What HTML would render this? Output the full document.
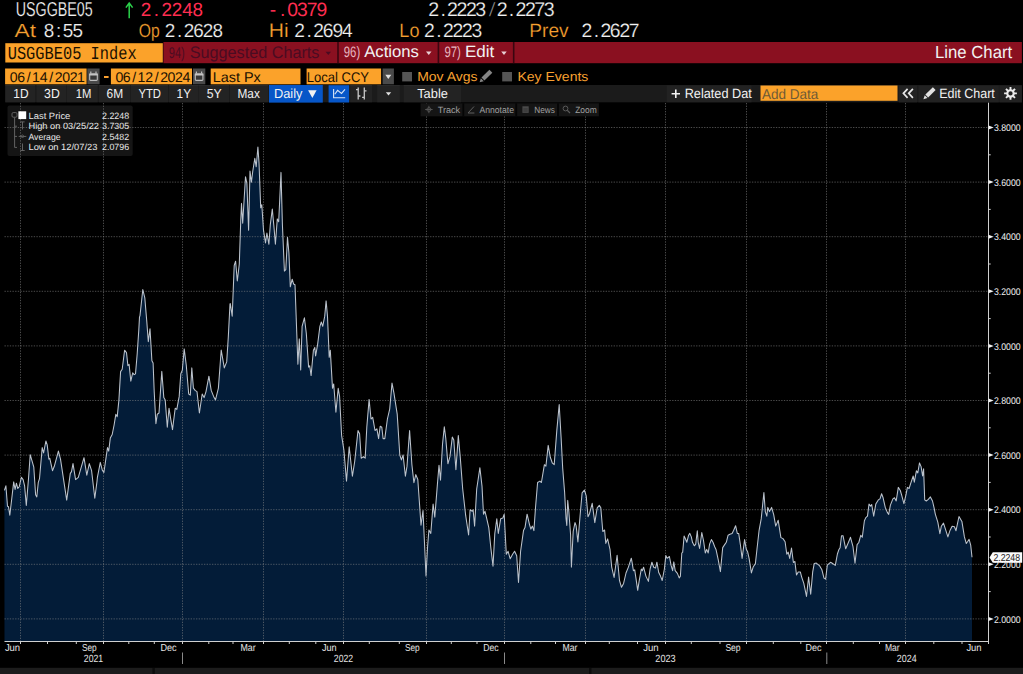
<!DOCTYPE html>
<html><head><meta charset="utf-8"><style>
html,body{margin:0;padding:0;background:#000;width:1023px;height:674px;overflow:hidden}
svg{display:block}
text{text-rendering:geometricPrecision}
</style></head><body>
<svg width="1023" height="674" viewBox="0 0 1023 674">
<rect width="1023" height="674" fill="#000"/>
<text x="15.79" y="16.40" font-family="Liberation Sans" font-size="20.20" fill="#f2f2f2" stroke="#000" stroke-width="0.2" font-weight="normal" textLength="76.92" lengthAdjust="spacingAndGlyphs" xml:space="preserve">USGGBE05</text>
<path d="M129.2 18.2 V3.6 M125.9 7.6 L129.2 3 L132.6 7.6" stroke="#2bd24b" stroke-width="1.5" fill="none"/>
<text x="146.00 156.34 166.67 177.00 187.39 197.67" y="15.90" font-family="Liberation Sans" font-size="18.90" fill="#ff2d50" text-anchor="middle">2.2248</text>
<text x="272.96 282.73 292.51 302.34 312.05 321.84" y="16.20" font-family="Liberation Sans" font-size="19.33" fill="#ff2d50" text-anchor="middle">-.0379</text>
<text x="433.77 443.17 452.56 461.96 471.35 480.81" y="16.20" font-family="Liberation Sans" font-size="19.62" fill="#f2f2f2" stroke="#000" stroke-width="0.2" text-anchor="middle">2.2223</text>
<text x="488.34" y="16.20" font-family="Liberation Mono" font-size="19.27" fill="#9a9a9a" stroke="#000" stroke-width="0.2" font-weight="normal" textLength="7.81" lengthAdjust="spacingAndGlyphs" xml:space="preserve">/</text>
<text x="502.17 511.57 520.96 530.36 539.74 549.21" y="16.20" font-family="Liberation Sans" font-size="19.62" fill="#f2f2f2" stroke="#000" stroke-width="0.2" text-anchor="middle">2.2273</text>
<text x="14.57" y="37.20" font-family="Liberation Sans" font-size="18.90" fill="#f8a030" stroke="#000" stroke-width="0.2" font-weight="normal" textLength="21.47" lengthAdjust="spacingAndGlyphs" xml:space="preserve">At</text>
<text x="48.93 58.50 68.08 77.64" y="37.20" font-family="Liberation Sans" font-size="18.90" fill="#f2f2f2" stroke="#000" stroke-width="0.2" text-anchor="middle">8:55</text>
<text x="138.87" y="37.00" font-family="Liberation Sans" font-size="18.90" fill="#f8a030" stroke="#000" stroke-width="0.2" font-weight="normal" textLength="20.97" lengthAdjust="spacingAndGlyphs" xml:space="preserve">Op</text>
<text x="170.00 179.54 189.07 198.54 208.13 217.67" y="37.00" font-family="Liberation Sans" font-size="18.90" fill="#f2f2f2" stroke="#000" stroke-width="0.2" text-anchor="middle">2.2628</text>
<text x="268.83" y="37.20" font-family="Liberation Sans" font-size="19.48" fill="#f8a030" stroke="#000" stroke-width="0.2" font-weight="normal" textLength="19.94" lengthAdjust="spacingAndGlyphs" xml:space="preserve">Hi</text>
<text x="299.57 309.11 318.65 328.12 337.73 347.33" y="37.20" font-family="Liberation Sans" font-size="19.19" fill="#f2f2f2" stroke="#000" stroke-width="0.2" text-anchor="middle">2.2694</text>
<text x="399.34" y="37.30" font-family="Liberation Sans" font-size="19.33" fill="#f8a030" stroke="#000" stroke-width="0.2" font-weight="normal" textLength="20.12" lengthAdjust="spacingAndGlyphs" xml:space="preserve">Lo</text>
<text x="429.40 438.87 448.33 457.79 467.25 476.77" y="37.30" font-family="Liberation Sans" font-size="19.33" fill="#f2f2f2" stroke="#000" stroke-width="0.2" text-anchor="middle">2.2223</text>
<text x="529.34" y="37.30" font-family="Liberation Sans" font-size="19.33" fill="#f8a030" stroke="#000" stroke-width="0.2" font-weight="normal" textLength="39.32" lengthAdjust="spacingAndGlyphs" xml:space="preserve">Prev</text>
<text x="586.90 596.36 605.82 615.22 624.75 634.20" y="37.30" font-family="Liberation Sans" font-size="19.33" fill="#f2f2f2" stroke="#000" stroke-width="0.2" text-anchor="middle">2.2627</text>
<rect x="5.30" y="43.20" width="157.50" height="19.30" fill="#fba22a" />
<text x="7.70" y="58.80" font-family="Liberation Mono" font-size="18.36" fill="#1a1000" font-weight="normal" textLength="128.90" lengthAdjust="spacingAndGlyphs" xml:space="preserve">USGGBE05 Index</text>
<rect x="163.40" y="42.00" width="858.50" height="21.20" fill="#8a1020" />
<rect x="337.20" y="42.00" width="1.60" height="21.20" fill="#3a0610" />
<rect x="437.60" y="42.00" width="1.60" height="21.20" fill="#3a0610" />
<rect x="512.90" y="42.00" width="1.60" height="21.20" fill="#3a0610" />
<text x="168.77" y="58.20" font-family="Liberation Sans" font-size="15.55" fill="#4a0c22" font-weight="normal" textLength="15.97" lengthAdjust="spacingAndGlyphs" xml:space="preserve">94)</text>
<text x="189.80" y="57.80" font-family="Liberation Sans" font-size="16.72" fill="#4a0c22" font-weight="normal" textLength="129.61" lengthAdjust="spacingAndGlyphs" xml:space="preserve">Suggested Charts</text>
<path d="M325.6 51.8 H331 L328.3 55 Z" fill="#4a0c22"/>
<text x="343.79" y="57.40" font-family="Liberation Sans" font-size="15.12" fill="#e8b8c0" font-weight="normal" textLength="16.41" lengthAdjust="spacingAndGlyphs" xml:space="preserve">96)</text>
<text x="364.21" y="57.20" font-family="Liberation Sans" font-size="16.42" fill="#f2f2f2" font-weight="normal" textLength="54.77" lengthAdjust="spacingAndGlyphs" xml:space="preserve">Actions</text>
<path d="M426 51.6 H431.5 L428.75 55 Z" fill="#e8d0d4"/>
<text x="444.39" y="57.40" font-family="Liberation Sans" font-size="15.12" fill="#e8b8c0" font-weight="normal" textLength="16.51" lengthAdjust="spacingAndGlyphs" xml:space="preserve">97)</text>
<text x="464.91" y="57.20" font-family="Liberation Sans" font-size="16.42" fill="#f2f2f2" font-weight="normal" textLength="29.27" lengthAdjust="spacingAndGlyphs" xml:space="preserve">Edit</text>
<path d="M501.2 51.6 H506.7 L504 55 Z" fill="#e8d0d4"/>
<text x="935.05" y="57.60" font-family="Liberation Sans" font-size="17.44" fill="#f2f2f2" font-weight="normal" textLength="77.09" lengthAdjust="spacingAndGlyphs" xml:space="preserve">Line Chart</text>
<rect x="5.10" y="68.50" width="81.50" height="15.80" fill="#fba22a" />
<text x="13.67 21.12 28.67 35.97 43.71 51.16 58.66 66.16 73.66 80.97" y="81.50" font-family="Liberation Sans" font-size="14.10" fill="#1a1000" text-anchor="middle">06/14/2021</text>
<rect x="87.30" y="68.50" width="12.30" height="15.80" fill="#4a4a4a" />
<rect x="110.90" y="68.50" width="81.10" height="15.80" fill="#fba22a" />
<text x="119.37 126.77 134.28 141.54 149.18 156.64 164.09 171.54 178.99 186.49" y="81.50" font-family="Liberation Sans" font-size="14.10" fill="#1a1000" text-anchor="middle">06/12/2024</text>
<rect x="193.00" y="68.50" width="12.30" height="15.80" fill="#4a4a4a" />
<rect x="89.7" y="74.1" width="7.6" height="6.3" rx="0.8" fill="#383838" stroke="#bdbdbd" stroke-width="1.1"/><rect x="89.2" y="73.5" width="8.6" height="2" fill="#c4c4c4"/><rect x="90.2" y="71.5" width="1.2" height="2.2" fill="#bdbdbd"/><rect x="95.4" y="71.5" width="1.2" height="2.2" fill="#bdbdbd"/>
<rect x="195.3" y="74.1" width="7.6" height="6.3" rx="0.8" fill="#383838" stroke="#bdbdbd" stroke-width="1.1"/><rect x="194.8" y="73.5" width="8.6" height="2" fill="#c4c4c4"/><rect x="195.8" y="71.5" width="1.2" height="2.2" fill="#bdbdbd"/><rect x="201.0" y="71.5" width="1.2" height="2.2" fill="#bdbdbd"/>
<rect x="104.00" y="76.00" width="4.60" height="2.00" fill="#f8a030" />
<rect x="210.70" y="68.50" width="89.80" height="15.80" fill="#fba22a" />
<text x="212.75" y="81.50" font-family="Liberation Sans" font-size="14.10" fill="#1a1000" font-weight="normal" textLength="48.09" lengthAdjust="spacingAndGlyphs" xml:space="preserve">Last Px</text>
<rect x="306.60" y="68.50" width="74.50" height="15.80" fill="#fba22a" />
<text x="306.75" y="81.50" font-family="Liberation Sans" font-size="14.10" fill="#1a1000" font-weight="normal" textLength="62.29" lengthAdjust="spacingAndGlyphs" xml:space="preserve">Local CCY</text>
<rect x="382.60" y="68.50" width="11.30" height="15.80" fill="#4a4a4a" />
<path d="M385.3 74.8 H391.3 L388.3 79 Z" fill="#e0e0e0"/>
<rect x="402.20" y="72.00" width="9.80" height="9.40" fill="#555555" />
<rect x="502.20" y="72.00" width="9.80" height="9.40" fill="#555555" />
<text x="417.22" y="80.80" font-family="Liberation Sans" font-size="13.08" fill="#f8a030" font-weight="normal" textLength="60.27" lengthAdjust="spacingAndGlyphs" xml:space="preserve">Mov Avgs</text>
<text x="517.42" y="80.80" font-family="Liberation Sans" font-size="13.08" fill="#f8a030" font-weight="normal" textLength="70.97" lengthAdjust="spacingAndGlyphs" xml:space="preserve">Key Events</text>
<polygon points="479.60,82.30 480.84,78.14 483.78,81.13" fill="#858585"/><polygon points="481.48,77.51 489.39,69.73 492.34,72.72 484.42,80.50" fill="#858585"/>
<rect x="5.30" y="85.00" width="1016.60" height="17.30" fill="#1b1b1b" />
<rect x="5.30" y="85.00" width="29.90" height="17.30" fill="#232323" />
<rect x="5.30" y="85.00" width="29.90" height="0.80" fill="#2c2c2c" />
<text x="13.31" y="98.00" font-family="Liberation Sans" font-size="13.23" fill="#f2f2f2" font-weight="normal" textLength="15.29" lengthAdjust="spacingAndGlyphs" xml:space="preserve">1D</text>
<rect x="36.60" y="85.00" width="29.90" height="17.30" fill="#232323" />
<rect x="36.60" y="85.00" width="29.90" height="0.80" fill="#2c2c2c" />
<text x="44.11" y="98.00" font-family="Liberation Sans" font-size="13.23" fill="#f2f2f2" font-weight="normal" textLength="15.69" lengthAdjust="spacingAndGlyphs" xml:space="preserve">3D</text>
<rect x="66.90" y="85.00" width="30.80" height="17.30" fill="#232323" />
<rect x="66.90" y="85.00" width="30.80" height="0.80" fill="#2c2c2c" />
<text x="75.71" y="98.00" font-family="Liberation Sans" font-size="13.23" fill="#f2f2f2" font-weight="normal" textLength="15.69" lengthAdjust="spacingAndGlyphs" xml:space="preserve">1M</text>
<rect x="98.90" y="85.00" width="31.30" height="17.30" fill="#232323" />
<rect x="98.90" y="85.00" width="31.30" height="0.80" fill="#2c2c2c" />
<text x="106.51" y="98.00" font-family="Liberation Sans" font-size="13.23" fill="#f2f2f2" font-weight="normal" textLength="16.59" lengthAdjust="spacingAndGlyphs" xml:space="preserve">6M</text>
<rect x="131.00" y="85.00" width="37.00" height="17.30" fill="#232323" />
<rect x="131.00" y="85.00" width="37.00" height="0.80" fill="#2c2c2c" />
<text x="138.41" y="98.00" font-family="Liberation Sans" font-size="13.23" fill="#f2f2f2" font-weight="normal" textLength="22.59" lengthAdjust="spacingAndGlyphs" xml:space="preserve">YTD</text>
<rect x="169.00" y="85.00" width="29.50" height="17.30" fill="#232323" />
<rect x="169.00" y="85.00" width="29.50" height="0.80" fill="#2c2c2c" />
<text x="176.61" y="98.00" font-family="Liberation Sans" font-size="13.23" fill="#f2f2f2" font-weight="normal" textLength="14.49" lengthAdjust="spacingAndGlyphs" xml:space="preserve">1Y</text>
<rect x="199.00" y="85.00" width="30.00" height="17.30" fill="#232323" />
<rect x="199.00" y="85.00" width="30.00" height="0.80" fill="#2c2c2c" />
<text x="206.71" y="98.00" font-family="Liberation Sans" font-size="13.23" fill="#f2f2f2" font-weight="normal" textLength="14.99" lengthAdjust="spacingAndGlyphs" xml:space="preserve">5Y</text>
<rect x="230.00" y="85.00" width="38.00" height="17.30" fill="#232323" />
<rect x="230.00" y="85.00" width="38.00" height="0.80" fill="#2c2c2c" />
<text x="237.51" y="98.00" font-family="Liberation Sans" font-size="13.23" fill="#f2f2f2" font-weight="normal" textLength="22.39" lengthAdjust="spacingAndGlyphs" xml:space="preserve">Max</text>
<rect x="269.00" y="85.00" width="53.80" height="17.60" fill="#0656c8" />
<text x="273.91" y="98.00" font-family="Liberation Sans" font-size="13.23" fill="#f2f2f2" font-weight="normal" textLength="28.59" lengthAdjust="spacingAndGlyphs" xml:space="preserve">Daily</text>
<path d="M308.1 90.3 H316.6 L312.35 98 Z" fill="#f2f2f2"/>
<rect x="328.60" y="85.20" width="20.50" height="17.30" fill="#0656c8" />
<path d="M333.6 89 V97.8 H345.2 M334.8 94.3 L337.6 90.4 L341.5 93.4 L345 89.3" stroke="#d8e4f4" stroke-width="1.1" fill="none"/>
<rect x="350.20" y="85.00" width="21.80" height="17.30" fill="#232323" />
<rect x="350.20" y="85.00" width="21.80" height="0.80" fill="#2c2c2c" />
<path d="M358.2 87.5 V99.5 M364.3 87.5 V99.5 M356 89.6 H358.2 M358.2 96 H360.4 M362.1 97.3 H364.3 M364.3 90.8 H366.5" stroke="#c8c8c8" stroke-width="1.3" fill="none"/>
<rect x="377.20" y="85.00" width="22.60" height="17.30" fill="#232323" />
<rect x="377.20" y="85.00" width="22.60" height="0.80" fill="#2c2c2c" />
<path d="M385.8 92.3 H391.2 L388.5 95.6 Z" fill="#e0e0e0"/>
<rect x="403.70" y="85.00" width="57.40" height="17.30" fill="#232323" />
<rect x="403.70" y="85.00" width="57.40" height="0.80" fill="#2c2c2c" />
<text x="417.21" y="98.00" font-family="Liberation Sans" font-size="13.23" fill="#f2f2f2" font-weight="normal" textLength="30.69" lengthAdjust="spacingAndGlyphs" xml:space="preserve">Table</text>
<rect x="666.70" y="85.30" width="84.80" height="17.00" fill="#222222" />
<path d="M671.6 93.8 H680 M675.8 89.6 V98" stroke="#f2f2f2" stroke-width="1.6" fill="none"/>
<text x="684.69" y="98.10" font-family="Liberation Sans" font-size="13.52" fill="#f2f2f2" font-weight="normal" textLength="67.12" lengthAdjust="spacingAndGlyphs" xml:space="preserve">Related Dat</text>
<rect x="760.50" y="85.50" width="137.00" height="15.30" fill="#fba22a" />
<text x="761.95" y="98.60" font-family="Liberation Sans" font-size="14.10" fill="#6e5a36" font-weight="normal" textLength="56.39" lengthAdjust="spacingAndGlyphs" xml:space="preserve">Add Data</text>
<rect x="898.90" y="85.60" width="18.10" height="16.80" fill="#222222" />
<path d="M907.6 88.8 L903.4 93.3 L907.6 97.8 M912.9 88.8 L908.7 93.3 L912.9 97.8" stroke="#e6e6e6" stroke-width="1.7" fill="none"/>
<rect x="918.40" y="85.60" width="80.40" height="16.80" fill="#222222" />
<polygon points="923.40,99.30 924.74,95.25 927.48,98.03" fill="#e2e2e2"/><polygon points="925.38,94.61 932.87,87.25 935.60,90.04 928.12,97.40" fill="#e2e2e2"/>
<text x="939.19" y="98.20" font-family="Liberation Sans" font-size="13.52" fill="#f2f2f2" font-weight="normal" textLength="55.62" lengthAdjust="spacingAndGlyphs" xml:space="preserve">Edit Chart</text>
<rect x="999.50" y="85.60" width="22.40" height="16.80" fill="#222222" />
<path d="M1013.90 93.40 L1016.90 93.40 M1012.90 95.80 L1015.03 97.93 M1010.50 96.80 L1010.50 99.80 M1008.10 95.80 L1005.97 97.93 M1007.10 93.40 L1004.10 93.40 M1008.10 91.00 L1005.97 88.87 M1010.50 90.00 L1010.50 87.00 M1012.90 91.00 L1015.03 88.87" stroke="#ececec" stroke-width="1.9" fill="none"/><circle cx="1010.5" cy="93.4" r="3.2" fill="none" stroke="#ececec" stroke-width="2.1"/>
<path d="M4.5,641.0 L4.4,490.3 L5.9,485.8 L7.5,506.3 L8.5,506.8 L9.8,515.2 L11.6,500.0 L13.7,481.9 L15.1,489.4 L16.4,483.2 L17.8,488.5 L19.2,486.7 L21.4,477.3 L23.1,479.6 L24.6,485.8 L26.3,505.4 L28.5,478.7 L30.2,454.7 L32.0,460.9 L33.8,467.2 L35.6,494.7 L36.8,496.9 L38.3,482.3 L39.5,478.7 L42.2,447.6 L43.6,452.9 L45.9,441.0 L47.2,444.9 L48.9,459.1 L49.8,458.3 L52.5,470.7 L54.3,466.3 L58.4,451.1 L60.5,459.1 L66.7,500.1 L70.3,473.4 L71.5,471.6 L73.0,463.6 L75.6,479.6 L78.3,477.3 L84.0,457.7 L86.8,475.2 L89.3,463.6 L91.6,470.7 L94.8,498.3 L97.0,481.4 L97.4,477.3 L100.3,462.4 L102.3,470.1 L103.9,472.5 L105.8,459.4 L107.5,447.6 L108.7,451.1 L110.3,438.1 L112.2,434.5 L114.1,425.0 L115.8,414.3 L117.2,416.7 L118.9,400.1 L120.6,371.6 L122.2,369.2 L124.6,350.2 L126.5,352.6 L127.9,365.6 L129.1,364.4 L130.8,381.1 L132.7,372.8 L134.1,374.6 L135.5,373.9 L137.2,353.8 L138.8,330.0 L139.5,317.1 L140.0,315.6 L142.8,289.5 L144.8,297.8 L146.7,320.4 L148.3,341.7 L150.0,328.7 L151.9,360.7 L153.1,363.1 L154.2,391.6 L155.9,423.7 L157.3,414.2 L159.0,413.0 L161.8,371.4 L163.8,397.6 L165.2,399.9 L167.3,427.2 L169.0,408.2 L170.9,420.1 L172.5,429.6 L175.2,408.2 L176.8,409.4 L179.2,396.4 L180.8,373.8 L182.3,370.2 L184.2,348.9 L186.3,365.5 L188.7,394.0 L190.3,395.2 L191.8,367.9 L193.4,388.1 L195.1,390.4 L197.0,391.6 L199.4,413.0 L202.2,394.0 L204.1,397.6 L206.0,391.6 L208.9,376.2 L211.2,390.4 L213.6,396.4 L215.5,399.9 L218.4,388.1 L221.2,350.1 L224.3,367.9 L226.7,361.9 L228.3,337.0 L230.0,303.8 L230.3,303.5 L232.2,316.2 L234.2,265.5 L235.6,261.2 L237.3,281.0 L239.3,264.0 L240.7,221.8 L241.5,203.4 L242.7,223.2 L245.5,176.7 L246.9,183.7 L248.6,230.2 L250.0,171.0 L251.4,182.3 L252.8,171.0 L254.8,158.3 L256.2,166.8 L257.9,147.0 L259.0,162.6 L260.7,207.7 L261.8,204.8 L263.5,230.2 L265.5,242.9 L266.9,233.0 L268.9,244.3 L270.3,224.6 L272.3,209.1 L274.0,227.4 L275.4,244.3 L277.3,218.9 L278.7,221.8 L281.0,172.4 L282.4,224.6 L284.4,271.1 L285.8,269.7 L287.5,237.3 L288.9,252.8 L290.3,286.8 L292.2,279.2 L293.6,284.0 L295.0,284.8 L297.9,364.3 L299.3,338.9 L300.7,370.0 L302.1,326.3 L304.4,317.8 L306.3,333.3 L308.6,367.1 L309.7,365.7 L311.1,375.6 L313.4,350.2 L314.8,347.4 L315.6,355.9 L317.6,344.6 L319.9,326.3 L321.3,322.0 L322.7,326.3 L324.7,316.4 L326.1,300.9 L327.5,316.4 L329.2,357.3 L330.3,350.2 L332.5,388.3 L333.7,384.0 L335.9,412.2 L338.2,388.3 L339.6,396.7 L341.6,435.4 L343.9,450.1 L346.5,481.1 L349.2,446.8 L352.4,476.2 L354.7,461.5 L358.0,430.5 L359.6,433.7 L361.2,458.2 L363.5,456.6 L365.2,458.2 L366.8,427.2 L369.1,399.4 L371.0,419.0 L372.7,417.4 L375.0,430.5 L376.9,428.8 L378.6,438.6 L380.2,426.2 L381.8,427.2 L383.1,438.6 L384.8,438.6 L387.4,419.0 L389.7,409.2 L392.0,383.1 L393.9,392.9 L397.2,414.1 L399.8,455.0 L401.4,459.9 L403.1,455.0 L405.4,476.2 L407.0,466.4 L409.6,430.5 L411.9,464.8 L413.9,482.7 L415.8,474.6 L417.8,479.5 L421.0,525.2 L423.0,510.5 L426.0,575.9 L427.6,546.5 L428.9,530.1 L430.8,533.4 L433.1,504.0 L434.8,517.1 L437.4,484.4 L439.0,465.3 L440.5,480.1 L442.5,444.5 L444.3,426.7 L445.8,438.6 L447.9,463.8 L450.0,456.4 L452.3,437.1 L453.8,440.1 L455.9,469.7 L458.3,435.6 L460.3,457.9 L462.7,489.0 L465.7,515.7 L468.6,535.0 L470.1,509.8 L472.2,511.3 L473.1,509.8 L474.6,526.1 L476.7,489.0 L479.9,467.7 L482.0,486.1 L483.5,514.2 L485.0,511.3 L486.4,517.2 L488.8,527.6 L490.9,548.4 L493.0,566.2 L494.8,533.5 L496.8,518.7 L498.3,533.5 L500.7,518.7 L502.8,518.1 L504.2,514.2 L506.3,554.3 L508.1,551.3 L510.2,558.8 L512.6,554.3 L514.6,551.3 L516.7,555.8 L518.5,582.5 L520.6,551.3 L523.5,530.6 L525.0,527.6 L527.1,514.2 L529.5,524.6 L530.9,529.1 L532.4,526.1 L533.9,530.6 L535.5,507.8 L537.6,482.5 L539.9,481.1 L541.4,482.5 L544.4,464.7 L545.9,466.2 L548.2,445.4 L550.3,457.3 L552.4,463.2 L554.2,464.7 L556.8,430.6 L559.2,404.5 L561.1,437.5 L562.7,468.4 L564.6,492.1 L566.0,518.2 L566.8,525.4 L567.7,500.4 L568.9,512.3 L570.6,534.9 L571.4,567.1 L573.2,531.5 L575.0,522.6 L576.1,525.6 L577.9,541.9 L580.0,516.7 L582.1,492.9 L584.4,490.0 L586.2,495.9 L588.0,516.7 L589.5,513.7 L592.2,503.3 L594.8,522.6 L597.2,507.8 L599.3,505.4 L600.8,507.8 L602.8,531.5 L604.6,530.0 L605.8,543.4 L607.6,538.9 L610.0,549.3 L611.7,567.1 L614.1,577.5 L617.1,555.2 L619.5,580.5 L621.5,587.3 L623.6,583.4 L626.0,573.0 L628.4,567.1 L631.3,558.2 L632.0,561.9 L633.4,570.7 L634.7,569.9 L635.9,577.9 L637.7,590.3 L639.1,581.4 L641.3,569.0 L642.3,570.7 L643.6,567.2 L645.9,576.1 L648.4,581.4 L650.1,569.0 L651.9,562.2 L653.7,567.2 L655.5,568.1 L656.9,562.2 L658.7,572.5 L660.5,576.1 L662.2,580.5 L664.4,569.0 L665.8,555.6 L667.1,558.3 L669.4,556.5 L671.1,565.4 L672.6,570.7 L673.8,561.9 L675.2,570.7 L677.4,573.4 L679.2,577.9 L680.4,576.1 L681.8,553.0 L682.7,552.1 L684.1,536.0 L685.4,538.7 L686.8,542.3 L688.6,535.2 L689.8,533.4 L691.3,536.9 L692.5,542.3 L694.3,545.8 L695.7,544.1 L697.3,530.7 L698.2,542.3 L699.6,548.5 L701.8,532.5 L703.5,540.5 L705.3,553.0 L706.7,549.4 L708.2,553.0 L709.6,544.1 L711.4,539.6 L713.0,542.3 L714.7,546.7 L716.0,549.4 L718.3,560.1 L720.4,571.6 L722.7,547.6 L724.5,544.9 L726.3,542.3 L728.1,535.2 L729.9,534.3 L732.1,533.4 L733.7,530.3 L735.6,525.7 L737.3,533.4 L738.7,533.4 L740.4,544.8 L742.1,558.4 L744.6,539.6 L746.2,549.0 L747.7,552.1 L749.1,558.4 L751.4,572.9 L753.3,566.7 L755.4,563.6 L757.0,549.0 L759.1,530.3 L761.2,518.9 L762.6,505.3 L763.9,492.5 L765.3,511.6 L766.8,516.2 L767.8,507.4 L769.5,511.6 L771.6,507.4 L773.7,514.7 L775.7,526.1 L778.2,520.3 L780.9,537.6 L783.0,538.6 L785.1,541.7 L786.8,554.2 L788.2,552.1 L789.7,558.4 L791.5,548.0 L793.4,562.5 L794.9,561.5 L796.5,575.0 L798.2,571.9 L800.3,571.9 L801.7,577.1 L803.8,583.3 L806.5,596.4 L808.6,577.1 L810.7,594.3 L812.7,571.9 L814.2,563.6 L816.3,563.1 L819.4,565.6 L821.9,569.8 L824.0,578.1 L825.6,579.1 L827.3,565.2 L830.5,562.3 L832.2,563.3 L835.3,565.4 L837.4,554.0 L838.8,549.8 L840.1,547.7 L841.5,535.7 L843.0,535.7 L845.7,548.8 L848.8,541.5 L850.5,537.3 L853.0,546.7 L855.0,563.3 L857.1,544.6 L858.8,542.5 L860.8,535.2 L862.3,537.3 L864.4,520.7 L865.8,517.6 L867.5,516.1 L869.0,504.1 L870.6,506.1 L871.7,504.5 L873.7,516.1 L875.8,504.1 L878.3,499.9 L880.0,498.9 L881.6,493.7 L883.1,497.8 L885.2,507.2 L887.3,512.4 L888.7,514.4 L890.4,505.1 L892.9,498.9 L894.5,497.8 L896.2,500.9 L898.3,487.4 L900.3,490.5 L901.8,495.7 L903.9,503.6 L906.0,494.7 L907.4,487.4 L909.1,488.5 L910.7,483.3 L913.2,476.0 L914.3,482.2 L916.4,470.8 L917.8,472.9 L919.5,462.9 L921.1,466.6 L922.6,476.0 L923.6,468.7 L924.7,499.9 L926.3,501.0 L928.3,499.4 L930.4,496.9 L932.5,501.0 L934.2,508.4 L935.3,514.1 L937.8,522.2 L939.9,533.7 L941.3,526.3 L943.5,523.1 L945.6,529.6 L947.9,536.9 L950.0,530.4 L952.1,526.3 L954.4,526.8 L956.0,530.7 L959.0,516.5 L961.9,521.4 L964.4,536.9 L966.3,543.5 L967.5,541.8 L969.1,539.4 L970.7,545.1 L972.0,557.3 L972.0,641.0 Z" fill="#031c38"/>
<rect x="7.50" y="105.50" width="125.20" height="50.60" fill="#151515" rx="2"/>
<path d="M20.5 103 V641 M103.5 103 V641 M182.5 103 V641 M263.5 103 V641 M343.5 103 V641 M426.5 103 V641 M504.5 103 V641 M585.5 103 V641 M665.5 103 V641 M746.5 103 V641 M826.5 103 V641 M905.5 103 V641 M4.5 618.9 H988 M4.5 564.3 H988 M4.5 509.7 H988 M4.5 455.1 H988 M4.5 400.5 H988 M4.5 345.9 H988 M4.5 291.3 H988 M4.5 236.7 H988 M4.5 182.1 H988 M4.5 127.5 H988" stroke="#8a8a8a" stroke-opacity="0.55" stroke-width="1" stroke-dasharray="1.33 1.33" fill="none"/>
<path d="M4.4,490.3 L5.9,485.8 L7.5,506.3 L8.5,506.8 L9.8,515.2 L11.6,500.0 L13.7,481.9 L15.1,489.4 L16.4,483.2 L17.8,488.5 L19.2,486.7 L21.4,477.3 L23.1,479.6 L24.6,485.8 L26.3,505.4 L28.5,478.7 L30.2,454.7 L32.0,460.9 L33.8,467.2 L35.6,494.7 L36.8,496.9 L38.3,482.3 L39.5,478.7 L42.2,447.6 L43.6,452.9 L45.9,441.0 L47.2,444.9 L48.9,459.1 L49.8,458.3 L52.5,470.7 L54.3,466.3 L58.4,451.1 L60.5,459.1 L66.7,500.1 L70.3,473.4 L71.5,471.6 L73.0,463.6 L75.6,479.6 L78.3,477.3 L84.0,457.7 L86.8,475.2 L89.3,463.6 L91.6,470.7 L94.8,498.3 L97.0,481.4 L97.4,477.3 L100.3,462.4 L102.3,470.1 L103.9,472.5 L105.8,459.4 L107.5,447.6 L108.7,451.1 L110.3,438.1 L112.2,434.5 L114.1,425.0 L115.8,414.3 L117.2,416.7 L118.9,400.1 L120.6,371.6 L122.2,369.2 L124.6,350.2 L126.5,352.6 L127.9,365.6 L129.1,364.4 L130.8,381.1 L132.7,372.8 L134.1,374.6 L135.5,373.9 L137.2,353.8 L138.8,330.0 L139.5,317.1 L140.0,315.6 L142.8,289.5 L144.8,297.8 L146.7,320.4 L148.3,341.7 L150.0,328.7 L151.9,360.7 L153.1,363.1 L154.2,391.6 L155.9,423.7 L157.3,414.2 L159.0,413.0 L161.8,371.4 L163.8,397.6 L165.2,399.9 L167.3,427.2 L169.0,408.2 L170.9,420.1 L172.5,429.6 L175.2,408.2 L176.8,409.4 L179.2,396.4 L180.8,373.8 L182.3,370.2 L184.2,348.9 L186.3,365.5 L188.7,394.0 L190.3,395.2 L191.8,367.9 L193.4,388.1 L195.1,390.4 L197.0,391.6 L199.4,413.0 L202.2,394.0 L204.1,397.6 L206.0,391.6 L208.9,376.2 L211.2,390.4 L213.6,396.4 L215.5,399.9 L218.4,388.1 L221.2,350.1 L224.3,367.9 L226.7,361.9 L228.3,337.0 L230.0,303.8 L230.3,303.5 L232.2,316.2 L234.2,265.5 L235.6,261.2 L237.3,281.0 L239.3,264.0 L240.7,221.8 L241.5,203.4 L242.7,223.2 L245.5,176.7 L246.9,183.7 L248.6,230.2 L250.0,171.0 L251.4,182.3 L252.8,171.0 L254.8,158.3 L256.2,166.8 L257.9,147.0 L259.0,162.6 L260.7,207.7 L261.8,204.8 L263.5,230.2 L265.5,242.9 L266.9,233.0 L268.9,244.3 L270.3,224.6 L272.3,209.1 L274.0,227.4 L275.4,244.3 L277.3,218.9 L278.7,221.8 L281.0,172.4 L282.4,224.6 L284.4,271.1 L285.8,269.7 L287.5,237.3 L288.9,252.8 L290.3,286.8 L292.2,279.2 L293.6,284.0 L295.0,284.8 L297.9,364.3 L299.3,338.9 L300.7,370.0 L302.1,326.3 L304.4,317.8 L306.3,333.3 L308.6,367.1 L309.7,365.7 L311.1,375.6 L313.4,350.2 L314.8,347.4 L315.6,355.9 L317.6,344.6 L319.9,326.3 L321.3,322.0 L322.7,326.3 L324.7,316.4 L326.1,300.9 L327.5,316.4 L329.2,357.3 L330.3,350.2 L332.5,388.3 L333.7,384.0 L335.9,412.2 L338.2,388.3 L339.6,396.7 L341.6,435.4 L343.9,450.1 L346.5,481.1 L349.2,446.8 L352.4,476.2 L354.7,461.5 L358.0,430.5 L359.6,433.7 L361.2,458.2 L363.5,456.6 L365.2,458.2 L366.8,427.2 L369.1,399.4 L371.0,419.0 L372.7,417.4 L375.0,430.5 L376.9,428.8 L378.6,438.6 L380.2,426.2 L381.8,427.2 L383.1,438.6 L384.8,438.6 L387.4,419.0 L389.7,409.2 L392.0,383.1 L393.9,392.9 L397.2,414.1 L399.8,455.0 L401.4,459.9 L403.1,455.0 L405.4,476.2 L407.0,466.4 L409.6,430.5 L411.9,464.8 L413.9,482.7 L415.8,474.6 L417.8,479.5 L421.0,525.2 L423.0,510.5 L426.0,575.9 L427.6,546.5 L428.9,530.1 L430.8,533.4 L433.1,504.0 L434.8,517.1 L437.4,484.4 L439.0,465.3 L440.5,480.1 L442.5,444.5 L444.3,426.7 L445.8,438.6 L447.9,463.8 L450.0,456.4 L452.3,437.1 L453.8,440.1 L455.9,469.7 L458.3,435.6 L460.3,457.9 L462.7,489.0 L465.7,515.7 L468.6,535.0 L470.1,509.8 L472.2,511.3 L473.1,509.8 L474.6,526.1 L476.7,489.0 L479.9,467.7 L482.0,486.1 L483.5,514.2 L485.0,511.3 L486.4,517.2 L488.8,527.6 L490.9,548.4 L493.0,566.2 L494.8,533.5 L496.8,518.7 L498.3,533.5 L500.7,518.7 L502.8,518.1 L504.2,514.2 L506.3,554.3 L508.1,551.3 L510.2,558.8 L512.6,554.3 L514.6,551.3 L516.7,555.8 L518.5,582.5 L520.6,551.3 L523.5,530.6 L525.0,527.6 L527.1,514.2 L529.5,524.6 L530.9,529.1 L532.4,526.1 L533.9,530.6 L535.5,507.8 L537.6,482.5 L539.9,481.1 L541.4,482.5 L544.4,464.7 L545.9,466.2 L548.2,445.4 L550.3,457.3 L552.4,463.2 L554.2,464.7 L556.8,430.6 L559.2,404.5 L561.1,437.5 L562.7,468.4 L564.6,492.1 L566.0,518.2 L566.8,525.4 L567.7,500.4 L568.9,512.3 L570.6,534.9 L571.4,567.1 L573.2,531.5 L575.0,522.6 L576.1,525.6 L577.9,541.9 L580.0,516.7 L582.1,492.9 L584.4,490.0 L586.2,495.9 L588.0,516.7 L589.5,513.7 L592.2,503.3 L594.8,522.6 L597.2,507.8 L599.3,505.4 L600.8,507.8 L602.8,531.5 L604.6,530.0 L605.8,543.4 L607.6,538.9 L610.0,549.3 L611.7,567.1 L614.1,577.5 L617.1,555.2 L619.5,580.5 L621.5,587.3 L623.6,583.4 L626.0,573.0 L628.4,567.1 L631.3,558.2 L632.0,561.9 L633.4,570.7 L634.7,569.9 L635.9,577.9 L637.7,590.3 L639.1,581.4 L641.3,569.0 L642.3,570.7 L643.6,567.2 L645.9,576.1 L648.4,581.4 L650.1,569.0 L651.9,562.2 L653.7,567.2 L655.5,568.1 L656.9,562.2 L658.7,572.5 L660.5,576.1 L662.2,580.5 L664.4,569.0 L665.8,555.6 L667.1,558.3 L669.4,556.5 L671.1,565.4 L672.6,570.7 L673.8,561.9 L675.2,570.7 L677.4,573.4 L679.2,577.9 L680.4,576.1 L681.8,553.0 L682.7,552.1 L684.1,536.0 L685.4,538.7 L686.8,542.3 L688.6,535.2 L689.8,533.4 L691.3,536.9 L692.5,542.3 L694.3,545.8 L695.7,544.1 L697.3,530.7 L698.2,542.3 L699.6,548.5 L701.8,532.5 L703.5,540.5 L705.3,553.0 L706.7,549.4 L708.2,553.0 L709.6,544.1 L711.4,539.6 L713.0,542.3 L714.7,546.7 L716.0,549.4 L718.3,560.1 L720.4,571.6 L722.7,547.6 L724.5,544.9 L726.3,542.3 L728.1,535.2 L729.9,534.3 L732.1,533.4 L733.7,530.3 L735.6,525.7 L737.3,533.4 L738.7,533.4 L740.4,544.8 L742.1,558.4 L744.6,539.6 L746.2,549.0 L747.7,552.1 L749.1,558.4 L751.4,572.9 L753.3,566.7 L755.4,563.6 L757.0,549.0 L759.1,530.3 L761.2,518.9 L762.6,505.3 L763.9,492.5 L765.3,511.6 L766.8,516.2 L767.8,507.4 L769.5,511.6 L771.6,507.4 L773.7,514.7 L775.7,526.1 L778.2,520.3 L780.9,537.6 L783.0,538.6 L785.1,541.7 L786.8,554.2 L788.2,552.1 L789.7,558.4 L791.5,548.0 L793.4,562.5 L794.9,561.5 L796.5,575.0 L798.2,571.9 L800.3,571.9 L801.7,577.1 L803.8,583.3 L806.5,596.4 L808.6,577.1 L810.7,594.3 L812.7,571.9 L814.2,563.6 L816.3,563.1 L819.4,565.6 L821.9,569.8 L824.0,578.1 L825.6,579.1 L827.3,565.2 L830.5,562.3 L832.2,563.3 L835.3,565.4 L837.4,554.0 L838.8,549.8 L840.1,547.7 L841.5,535.7 L843.0,535.7 L845.7,548.8 L848.8,541.5 L850.5,537.3 L853.0,546.7 L855.0,563.3 L857.1,544.6 L858.8,542.5 L860.8,535.2 L862.3,537.3 L864.4,520.7 L865.8,517.6 L867.5,516.1 L869.0,504.1 L870.6,506.1 L871.7,504.5 L873.7,516.1 L875.8,504.1 L878.3,499.9 L880.0,498.9 L881.6,493.7 L883.1,497.8 L885.2,507.2 L887.3,512.4 L888.7,514.4 L890.4,505.1 L892.9,498.9 L894.5,497.8 L896.2,500.9 L898.3,487.4 L900.3,490.5 L901.8,495.7 L903.9,503.6 L906.0,494.7 L907.4,487.4 L909.1,488.5 L910.7,483.3 L913.2,476.0 L914.3,482.2 L916.4,470.8 L917.8,472.9 L919.5,462.9 L921.1,466.6 L922.6,476.0 L923.6,468.7 L924.7,499.9 L926.3,501.0 L928.3,499.4 L930.4,496.9 L932.5,501.0 L934.2,508.4 L935.3,514.1 L937.8,522.2 L939.9,533.7 L941.3,526.3 L943.5,523.1 L945.6,529.6 L947.9,536.9 L950.0,530.4 L952.1,526.3 L954.4,526.8 L956.0,530.7 L959.0,516.5 L961.9,521.4 L964.4,536.9 L966.3,543.5 L967.5,541.8 L969.1,539.4 L970.7,545.1 L972.0,557.3" stroke="#bcc3cc" stroke-width="1.05" fill="none" stroke-linejoin="round"/>
<path d="M988.5 102.7 V644 M4.5 641.5 H988.5" stroke="#d0d0d0" stroke-width="1" fill="none"/>
<path d="M988.5 616.90 L993.7 618.90 L988.5 620.90 Z" fill="#f2f2f2"/>
<text x="994.02" y="622.50" font-family="Liberation Sans" font-size="9.74" fill="#f2f2f2" font-weight="normal" textLength="26.57" lengthAdjust="spacingAndGlyphs" xml:space="preserve">2.0000</text>
<path d="M988.5 562.30 L993.7 564.30 L988.5 566.30 Z" fill="#f2f2f2"/>
<text x="994.02" y="567.90" font-family="Liberation Sans" font-size="9.74" fill="#f2f2f2" font-weight="normal" textLength="26.57" lengthAdjust="spacingAndGlyphs" xml:space="preserve">2.2000</text>
<path d="M988.5 507.70 L993.7 509.70 L988.5 511.70 Z" fill="#f2f2f2"/>
<text x="994.02" y="513.30" font-family="Liberation Sans" font-size="9.74" fill="#f2f2f2" font-weight="normal" textLength="26.57" lengthAdjust="spacingAndGlyphs" xml:space="preserve">2.4000</text>
<path d="M988.5 453.10 L993.7 455.10 L988.5 457.10 Z" fill="#f2f2f2"/>
<text x="994.02" y="458.70" font-family="Liberation Sans" font-size="9.74" fill="#f2f2f2" font-weight="normal" textLength="26.57" lengthAdjust="spacingAndGlyphs" xml:space="preserve">2.6000</text>
<path d="M988.5 398.50 L993.7 400.50 L988.5 402.50 Z" fill="#f2f2f2"/>
<text x="994.02" y="404.10" font-family="Liberation Sans" font-size="9.74" fill="#f2f2f2" font-weight="normal" textLength="26.57" lengthAdjust="spacingAndGlyphs" xml:space="preserve">2.8000</text>
<path d="M988.5 343.90 L993.7 345.90 L988.5 347.90 Z" fill="#f2f2f2"/>
<text x="994.02" y="349.50" font-family="Liberation Sans" font-size="9.74" fill="#f2f2f2" font-weight="normal" textLength="26.57" lengthAdjust="spacingAndGlyphs" xml:space="preserve">3.0000</text>
<path d="M988.5 289.30 L993.7 291.30 L988.5 293.30 Z" fill="#f2f2f2"/>
<text x="994.02" y="294.90" font-family="Liberation Sans" font-size="9.74" fill="#f2f2f2" font-weight="normal" textLength="26.57" lengthAdjust="spacingAndGlyphs" xml:space="preserve">3.2000</text>
<path d="M988.5 234.70 L993.7 236.70 L988.5 238.70 Z" fill="#f2f2f2"/>
<text x="994.02" y="240.30" font-family="Liberation Sans" font-size="9.74" fill="#f2f2f2" font-weight="normal" textLength="26.57" lengthAdjust="spacingAndGlyphs" xml:space="preserve">3.4000</text>
<path d="M988.5 180.10 L993.7 182.10 L988.5 184.10 Z" fill="#f2f2f2"/>
<text x="994.02" y="185.70" font-family="Liberation Sans" font-size="9.74" fill="#f2f2f2" font-weight="normal" textLength="26.57" lengthAdjust="spacingAndGlyphs" xml:space="preserve">3.6000</text>
<path d="M988.5 125.50 L993.7 127.50 L988.5 129.50 Z" fill="#f2f2f2"/>
<text x="994.02" y="131.10" font-family="Liberation Sans" font-size="9.74" fill="#f2f2f2" font-weight="normal" textLength="26.57" lengthAdjust="spacingAndGlyphs" xml:space="preserve">3.8000</text>
<rect x="988.50" y="591.10" width="2.20" height="1.00" fill="#d0d0d0" />
<rect x="988.50" y="536.50" width="2.20" height="1.00" fill="#d0d0d0" />
<rect x="988.50" y="481.90" width="2.20" height="1.00" fill="#d0d0d0" />
<rect x="988.50" y="427.30" width="2.20" height="1.00" fill="#d0d0d0" />
<rect x="988.50" y="372.70" width="2.20" height="1.00" fill="#d0d0d0" />
<rect x="988.50" y="318.10" width="2.20" height="1.00" fill="#d0d0d0" />
<rect x="988.50" y="263.50" width="2.20" height="1.00" fill="#d0d0d0" />
<rect x="988.50" y="208.90" width="2.20" height="1.00" fill="#d0d0d0" />
<rect x="988.50" y="154.30" width="2.20" height="1.00" fill="#d0d0d0" />
<path d="M20.5 641 V644 M103.5 641 V644 M182.5 641 V644 M263.5 641 V644 M343.5 641 V644 M426.5 641 V644 M504.5 641 V644 M585.5 641 V644 M665.5 641 V644 M746.5 641 V644 M826.5 641 V644 M905.5 641 V644 M47.5 641 V644 M76.3 641 V644 M128.8 641 V644 M154.3 641 V644 M208.8 641 V644 M233 641 V644 M289.3 641 V644 M315.8 641 V644 M369.3 641 V644 M399.3 641 V644 M451.3 641 V644 M477 641 V644 M530.8 641 V644 M555.5 641 V644 M609.3 641 V644 M637.5 641 V644 M691.3 641 V644 M720 641 V644 M773.3 641 V644 M800.8 641 V644 M853.3 641 V644 M879.5 641 V644 M933.8 641 V644 M962 641 V644" stroke="#d0d0d0" stroke-width="1" fill="none"/>
<text x="4.89" y="650.90" font-family="Liberation Sans" font-size="10.17" fill="#e6e6e6" font-weight="normal" textLength="15.22" lengthAdjust="spacingAndGlyphs" xml:space="preserve">Jun</text>
<text x="81.89" y="650.90" font-family="Liberation Sans" font-size="10.17" fill="#e6e6e6" font-weight="normal" textLength="14.72" lengthAdjust="spacingAndGlyphs" xml:space="preserve">Sep</text>
<text x="160.39" y="650.90" font-family="Liberation Sans" font-size="10.17" fill="#e6e6e6" font-weight="normal" textLength="16.22" lengthAdjust="spacingAndGlyphs" xml:space="preserve">Dec</text>
<text x="240.39" y="650.90" font-family="Liberation Sans" font-size="10.17" fill="#e6e6e6" font-weight="normal" textLength="15.22" lengthAdjust="spacingAndGlyphs" xml:space="preserve">Mar</text>
<text x="321.89" y="650.90" font-family="Liberation Sans" font-size="10.17" fill="#e6e6e6" font-weight="normal" textLength="14.72" lengthAdjust="spacingAndGlyphs" xml:space="preserve">Jun</text>
<text x="404.89" y="650.90" font-family="Liberation Sans" font-size="10.17" fill="#e6e6e6" font-weight="normal" textLength="14.72" lengthAdjust="spacingAndGlyphs" xml:space="preserve">Sep</text>
<text x="483.19" y="650.90" font-family="Liberation Sans" font-size="10.17" fill="#e6e6e6" font-weight="normal" textLength="15.42" lengthAdjust="spacingAndGlyphs" xml:space="preserve">Dec</text>
<text x="562.39" y="650.90" font-family="Liberation Sans" font-size="10.17" fill="#e6e6e6" font-weight="normal" textLength="15.02" lengthAdjust="spacingAndGlyphs" xml:space="preserve">Mar</text>
<text x="643.19" y="650.90" font-family="Liberation Sans" font-size="10.17" fill="#e6e6e6" font-weight="normal" textLength="15.42" lengthAdjust="spacingAndGlyphs" xml:space="preserve">Jun</text>
<text x="725.39" y="650.90" font-family="Liberation Sans" font-size="10.17" fill="#e6e6e6" font-weight="normal" textLength="15.22" lengthAdjust="spacingAndGlyphs" xml:space="preserve">Sep</text>
<text x="805.39" y="650.90" font-family="Liberation Sans" font-size="10.17" fill="#e6e6e6" font-weight="normal" textLength="16.02" lengthAdjust="spacingAndGlyphs" xml:space="preserve">Dec</text>
<text x="884.89" y="650.90" font-family="Liberation Sans" font-size="10.17" fill="#e6e6e6" font-weight="normal" textLength="14.72" lengthAdjust="spacingAndGlyphs" xml:space="preserve">Mar</text>
<text x="966.39" y="650.90" font-family="Liberation Sans" font-size="10.17" fill="#e6e6e6" font-weight="normal" textLength="15.22" lengthAdjust="spacingAndGlyphs" xml:space="preserve">Jun</text>
<text x="83.87" y="661.80" font-family="Liberation Sans" font-size="10.47" fill="#e6e6e6" font-weight="normal" textLength="19.26" lengthAdjust="spacingAndGlyphs" xml:space="preserve">2021</text>
<text x="333.87" y="661.80" font-family="Liberation Sans" font-size="10.47" fill="#e6e6e6" font-weight="normal" textLength="19.26" lengthAdjust="spacingAndGlyphs" xml:space="preserve">2022</text>
<text x="655.37" y="661.80" font-family="Liberation Sans" font-size="10.47" fill="#e6e6e6" font-weight="normal" textLength="20.26" lengthAdjust="spacingAndGlyphs" xml:space="preserve">2023</text>
<text x="896.87" y="661.80" font-family="Liberation Sans" font-size="10.47" fill="#e6e6e6" font-weight="normal" textLength="19.76" lengthAdjust="spacingAndGlyphs" xml:space="preserve">2024</text>
<rect x="182.00" y="652.50" width="1.00" height="11.50" fill="#8a8a8a" />
<rect x="504.00" y="652.50" width="1.00" height="11.50" fill="#8a8a8a" />
<rect x="826.30" y="652.50" width="1.00" height="11.50" fill="#8a8a8a" />
<path d="M989.5 557.5 L992.8 552.2 H1022.2 V562.8 H992.8 Z" fill="#fafafa"/>
<text x="993.39" y="561.40" font-family="Liberation Sans" font-size="10.17" fill="#202020" font-weight="normal" textLength="26.72" lengthAdjust="spacingAndGlyphs" xml:space="preserve">2.2248</text>
<rect x="0.00" y="667.80" width="1023.00" height="6.20" fill="#1c1c1c" />
<rect x="152.40" y="667.90" width="2.40" height="6.10" fill="#0c0c0c" />
<rect x="589.00" y="667.90" width="2.40" height="6.10" fill="#0c0c0c" />
<rect x="420.60" y="103.30" width="178.30" height="13.00" fill="#151515" />
<rect x="462.40" y="103.30" width="1.80" height="13.00" fill="#050505" />
<rect x="515.30" y="103.30" width="1.80" height="13.00" fill="#050505" />
<rect x="557.10" y="103.30" width="1.80" height="13.00" fill="#050505" />
<text x="437.65" y="112.80" font-family="Liberation Sans" font-size="9.16" fill="#a0a0a0" font-weight="normal" textLength="22.50" lengthAdjust="spacingAndGlyphs" xml:space="preserve">Track</text>
<text x="479.45" y="112.80" font-family="Liberation Sans" font-size="9.16" fill="#a0a0a0" font-weight="normal" textLength="34.50" lengthAdjust="spacingAndGlyphs" xml:space="preserve">Annotate</text>
<text x="534.25" y="112.80" font-family="Liberation Sans" font-size="9.16" fill="#a0a0a0" font-weight="normal" textLength="20.60" lengthAdjust="spacingAndGlyphs" xml:space="preserve">News</text>
<text x="575.15" y="112.80" font-family="Liberation Sans" font-size="9.16" fill="#a0a0a0" font-weight="normal" textLength="21.50" lengthAdjust="spacingAndGlyphs" xml:space="preserve">Zoom</text>
<path d="M428.9 105.8 V113.2 M425.2 109.5 H432.6" stroke="#555" stroke-width="1" fill="none"/><circle cx="428.9" cy="109.5" r="2" fill="none" stroke="#555" stroke-width="0.8"/>
<path d="M468 113 L474 106.5 M468 113 H474.4" stroke="#606060" stroke-width="1" fill="none"/>
<rect x="522.4" y="106.3" width="6.3" height="6.6" fill="#4a4a4a"/><path d="M523.4 109 H527.7 M523.4 111 H527.7" stroke="#2a2a2a" stroke-width="0.7"/>
<circle cx="565.5" cy="108.5" r="2.4" fill="none" stroke="#5a5a5a" stroke-width="1"/><path d="M567.2 110.3 L570 113" stroke="#5a5a5a" stroke-width="1.2"/>
<rect x="18.40" y="111.30" width="7.80" height="7.80" fill="#ffffff" />
<text x="28.45" y="118.90" font-family="Liberation Sans" font-size="9.16" fill="#e8e8e8" font-weight="normal" textLength="41.90" lengthAdjust="spacingAndGlyphs" xml:space="preserve">Last Price</text>
<text x="102.05" y="118.90" font-family="Liberation Sans" font-size="9.16" fill="#e8e8e8" font-weight="normal" textLength="27.10" lengthAdjust="spacingAndGlyphs" xml:space="preserve">2.2248</text>
<text x="28.46" y="129.40" font-family="Liberation Sans" font-size="9.01" fill="#e8e8e8" font-weight="normal" textLength="70.58" lengthAdjust="spacingAndGlyphs" xml:space="preserve">High on 03/25/22</text>
<text x="102.06" y="129.40" font-family="Liberation Sans" font-size="9.01" fill="#e8e8e8" font-weight="normal" textLength="27.08" lengthAdjust="spacingAndGlyphs" xml:space="preserve">3.7305</text>
<text x="28.46" y="139.80" font-family="Liberation Sans" font-size="9.01" fill="#e8e8e8" font-weight="normal" textLength="32.08" lengthAdjust="spacingAndGlyphs" xml:space="preserve">Average</text>
<text x="102.06" y="139.80" font-family="Liberation Sans" font-size="9.01" fill="#e8e8e8" font-weight="normal" textLength="27.08" lengthAdjust="spacingAndGlyphs" xml:space="preserve">2.5482</text>
<text x="28.46" y="150.40" font-family="Liberation Sans" font-size="9.01" fill="#e8e8e8" font-weight="normal" textLength="68.88" lengthAdjust="spacingAndGlyphs" xml:space="preserve">Low on 12/07/23</text>
<text x="102.06" y="150.40" font-family="Liberation Sans" font-size="9.01" fill="#e8e8e8" font-weight="normal" textLength="27.08" lengthAdjust="spacingAndGlyphs" xml:space="preserve">2.0796</text>
<path d="M14.6 117.5 V147.4 H17 M14.6 126.2 H17 M14.6 136.4 H17 M20.3 121.9 H24.6 M22.5 121.9 V129.4 M18.7 136.4 H26.3 M22.5 143.5 V150.5 M20.3 150.5 H24.7" stroke="#6a6a6a" stroke-width="0.9" fill="none"/><rect x="12" y="112.6" width="5" height="4.6" rx="1.2" fill="none" stroke="#6a6a6a" stroke-width="0.9"/><path d="M22.5 134.8 L24.1 136.4 L22.5 138 L20.9 136.4 Z" fill="none" stroke="#6a6a6a" stroke-width="0.8"/>
</svg></body></html>
